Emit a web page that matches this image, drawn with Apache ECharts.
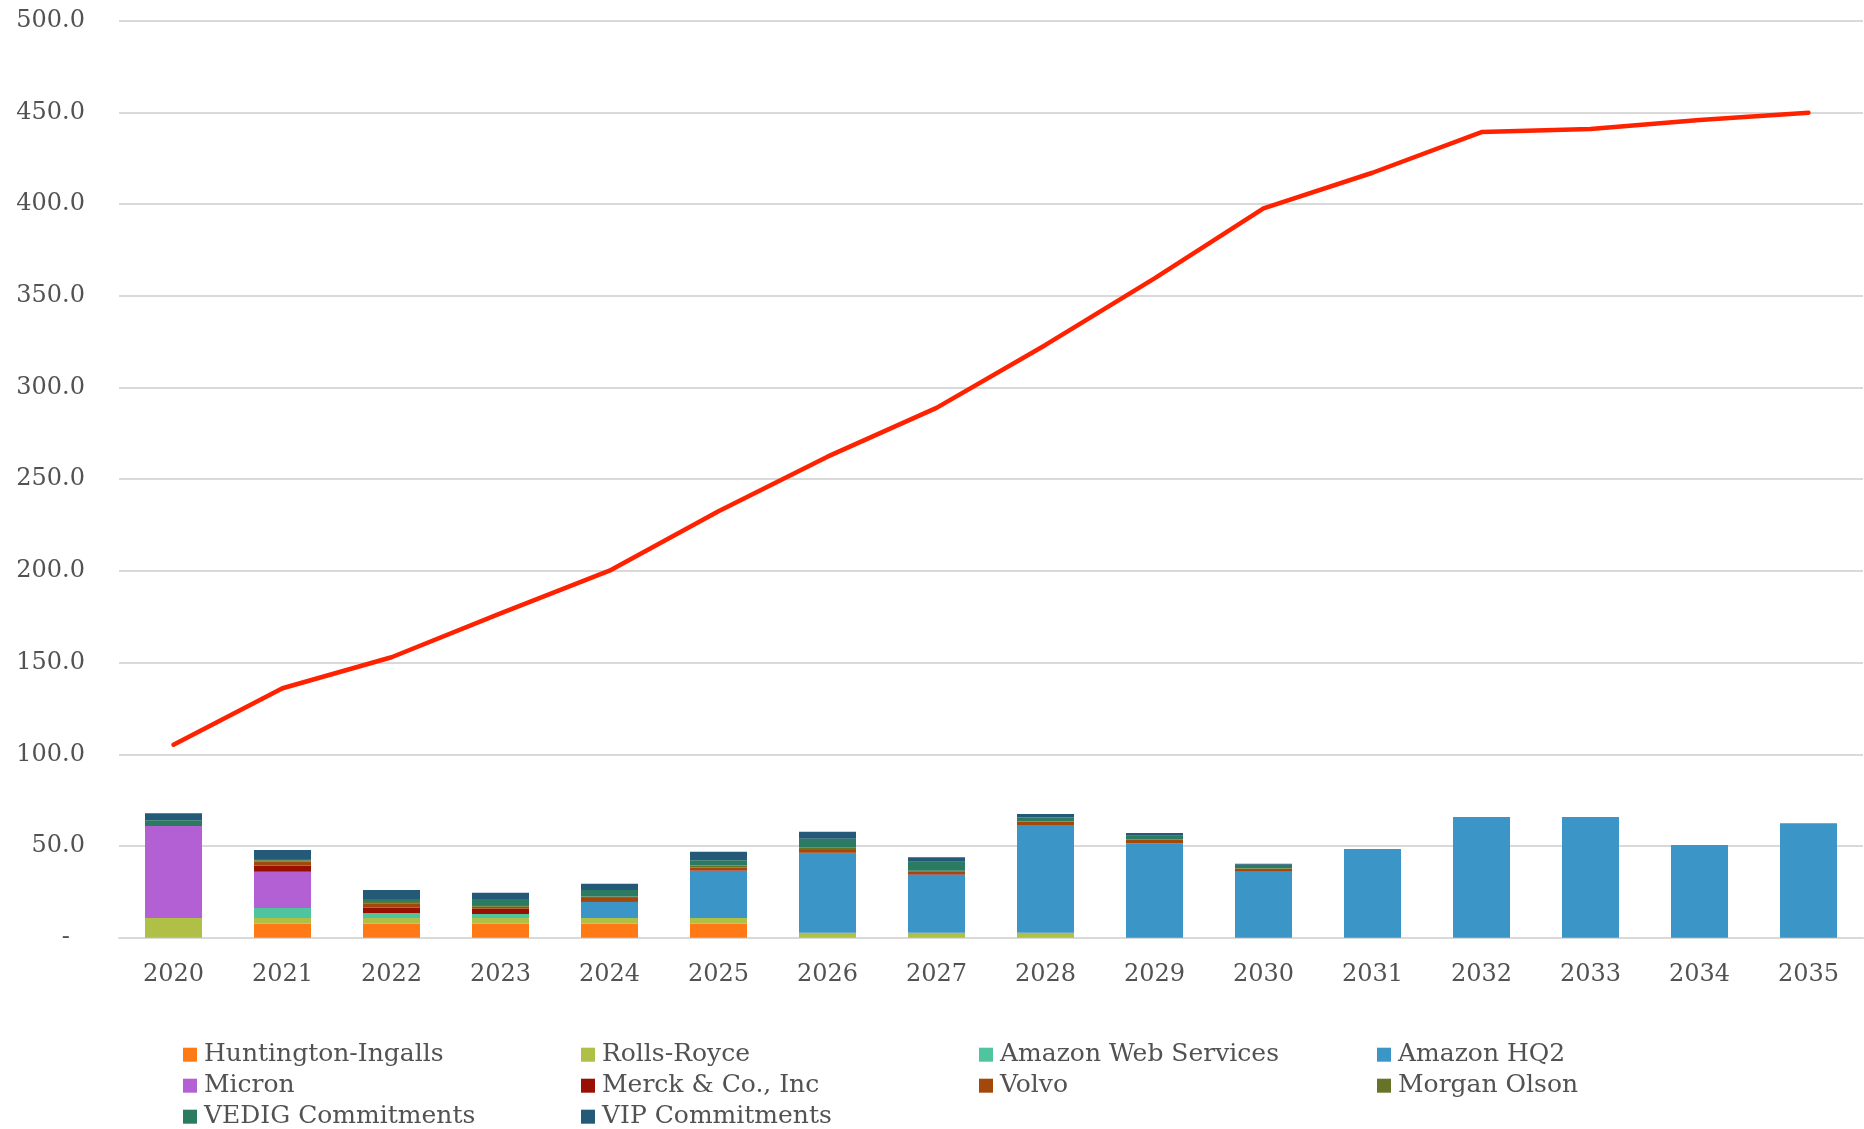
<!DOCTYPE html>
<html>
<head>
<meta charset="utf-8">
<script src="https://cdn.jsdelivr.net/npm/echarts@6/dist/echarts.min.js"></script>
<style>
html,body{margin:0;padding:0;background:#fff;}
#chart{width:1864px;height:1129px;}
</style>
</head>
<body>
<div id="chart"></div>
<script>
const years = ['2020','2021','2022','2023','2024','2025','2026','2027','2028','2029','2030','2031','2032','2033','2034','2035'];
const yTicks = [0,50,100,150,200,250,300,350,400,450,500];

const huntingtonIngalls = [null,7.8,7.8,7.8,7.8,7.8,null,null,null,null,null,null,null,null,null,null];
const rollsRoyce        = [10.7,2.9,2.9,2.9,2.9,2.9,2.7,2.7,2.7,null,null,null,null,null,null,null];
const amazonWebServices = [null,5.5,2.8,2.2,null,null,null,null,null,null,null,null,null,null,null,null];
const amazonHQ2         = [null,null,null,null,8.9,25.8,43.3,31.7,58.7,51.5,36.0,48.4,65.8,65.8,50.5,62.4];
const micron            = [50.2,19.8,null,null,null,null,null,null,null,null,null,null,null,null,null,null];
const merck             = [null,3.3,2.9,2.9,0.4,0.3,0.3,0.3,null,null,null,null,null,null,null,null];
const volvo             = [null,2.1,2.4,1.1,1.6,1.4,1.5,1.5,1.9,1.8,1.6,null,null,null,null,null];
const morganOlson       = [null,0.8,1.2,0.9,0.9,1.1,1.5,0.3,0.3,0.3,0.2,null,null,null,null,null];
const vedigCommitments  = [3.1,0.7,1.1,3.3,3.5,2.9,4.7,4.9,2.0,2.0,2.0,null,null,null,null,null];
const vipCommitments    = [3.8,4.9,4.9,3.4,3.4,4.7,3.8,2.4,1.9,1.5,0.5,null,null,null,null,null];
const totalLine         = [105.2,136.0,152.9,176.8,200.1,232.5,262.3,288.9,323.2,359.5,397.7,417.1,439.3,441.0,445.9,449.8];

const barSeries = [
  ['Huntington-Ingalls', huntingtonIngalls, '#FF7A17'],
  ['Rolls-Royce', rollsRoyce, '#B0BF45'],
  ['Amazon Web Services', amazonWebServices, '#4FC59F'],
  ['Amazon HQ2', amazonHQ2, '#3B95C6'],
  ['Micron', micron, '#B360D5'],
  ['Merck & Co., Inc', merck, '#990F02'],
  ['Volvo', volvo, '#A4470A'],
  ['Morgan Olson', morganOlson, '#677428'],
  ['VEDIG Commitments', vedigCommitments, '#2A7B62'],
  ['VIP Commitments', vipCommitments, '#245978']
];

const FONT = 'DejaVu Serif';
const TXT = '#525252';

const legendLefts = [183, 581, 979, 1377];
const legendTops = [1042.2, 1073.2, 1104.2];
const legends = barSeries.map((s, i) => ({
  data: [s[0]],
  left: legendLefts[i % 4],
  top: legendTops[Math.floor(i / 4)],
  orient: 'horizontal',
  padding: 0,
  icon: 'rect',
  itemWidth: 14,
  itemHeight: 14,
  itemGap: 0,
  selectedMode: false,
  textStyle: {fontFamily: FONT, fontSize: 25, color: TXT, lineHeight: 25, padding: [0,0,0,2]}
}));

const series = barSeries.map(s => ({
  name: s[0],
  type: 'bar',
  stack: 'total',
  data: s[1],
  barWidth: 57,
  itemStyle: {color: s[2]},
  emphasis: {disabled: true}
}));
series.push({
  name: 'Total',
  type: 'line',
  data: totalLine,
  symbol: 'none',
  z: 10,
  lineStyle: {color: '#FF2200', width: 4.5, cap: 'round', join: 'round'},
  emphasis: {disabled: true}
});

const chart = echarts.init(document.getElementById('chart'));
chart.setOption({
  animation: false,
  backgroundColor: '#fff',
  legend: legends,
  grid: {left: 119, right: 1, top: 20.7, bottom: 191.3, containLabel: false},
  xAxis: {
    type: 'category',
    data: years,
    axisTick: {show: false},
    axisLine: {lineStyle: {color: '#d9d9d9', width: 2}},
    axisLabel: {fontFamily: FONT, fontSize: 24, color: TXT, margin: 25}
  },
  yAxis: {
    type: 'value',
    min: yTicks[0],
    max: yTicks[yTicks.length - 1],
    interval: yTicks[1] - yTicks[0],
    axisLine: {show: false},
    axisTick: {show: false},
    splitLine: {lineStyle: {color: '#d9d9d9', width: 2}},
    axisLabel: {
      fontFamily: FONT, fontSize: 24, color: TXT, margin: 34,
      formatter: v => v === 0 ? '-  ' : v.toFixed(1)
    }
  },
  series: series
});
</script>
</body>
</html>
